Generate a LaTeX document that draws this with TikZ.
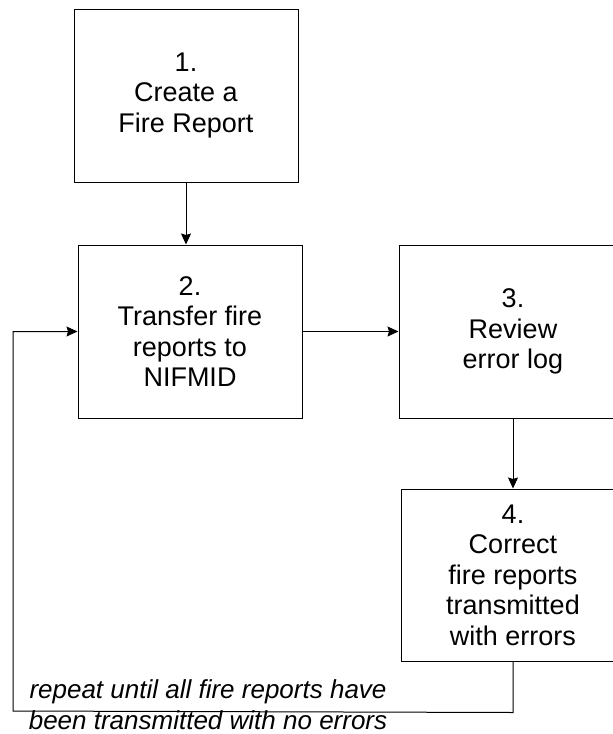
\documentclass[tikz,border=0pt]{standalone}
\usepackage{fontspec}
\setmainfont{Liberation Sans}
\usetikzlibrary{arrows.meta, positioning}
\tikzstyle{process} = [rectangle, minimum width=224pt, minimum height=173pt, text centered, align=center, inner sep=0pt, draw=black, font=\fontsize{27pt}{30.5pt}\selectfont]
\tikzstyle{arrow} = [line width=1pt, -{Stealth[length=11pt, width=10pt, inset=1.5pt]}]
\tikzstyle{note} = [align=center, inner sep=0pt, font=\fontsize{26pt}{31pt}\selectfont\itshape]

\begin{document}
\begin{tikzpicture}[x=1pt, y=-1pt, line width=1pt]
    \useasboundingbox (0,0) rectangle (613,734);
    \clip (0,0) rectangle (613,734);
    \node (create) [process] at (186,95.5) {1.\\Create a\\Fire Report};
    \node (transfer) [process, below=62pt of create, xshift=4pt] {2.\\Transfer fire\\reports to\\NIFMID};
    \node (review) [process, right=96pt of transfer, minimum width=228pt] {3.\\Review\\error log};
    \node (correct) [process, below=70pt of review, minimum height=172pt] {4.\\Correct\\fire reports\\transmitted\\with errors};
    \coordinate (loopright) at ([yshift=-51pt]correct.south);
    \coordinate (loopleft) at (13,711);
    \node (repeatnote) [note] at (208,705) {repeat until all fire reports have\\been transmitted with no errors};

    \draw [arrow] (create.south) -- (create.south |- transfer.north);
    \draw [arrow] (transfer) -- (review);
    \draw [arrow] (review) -- (correct);
    \draw [arrow] (correct.south) -- (loopright) -- (loopleft) |- (transfer.west);
\end{tikzpicture}
\end{document}
